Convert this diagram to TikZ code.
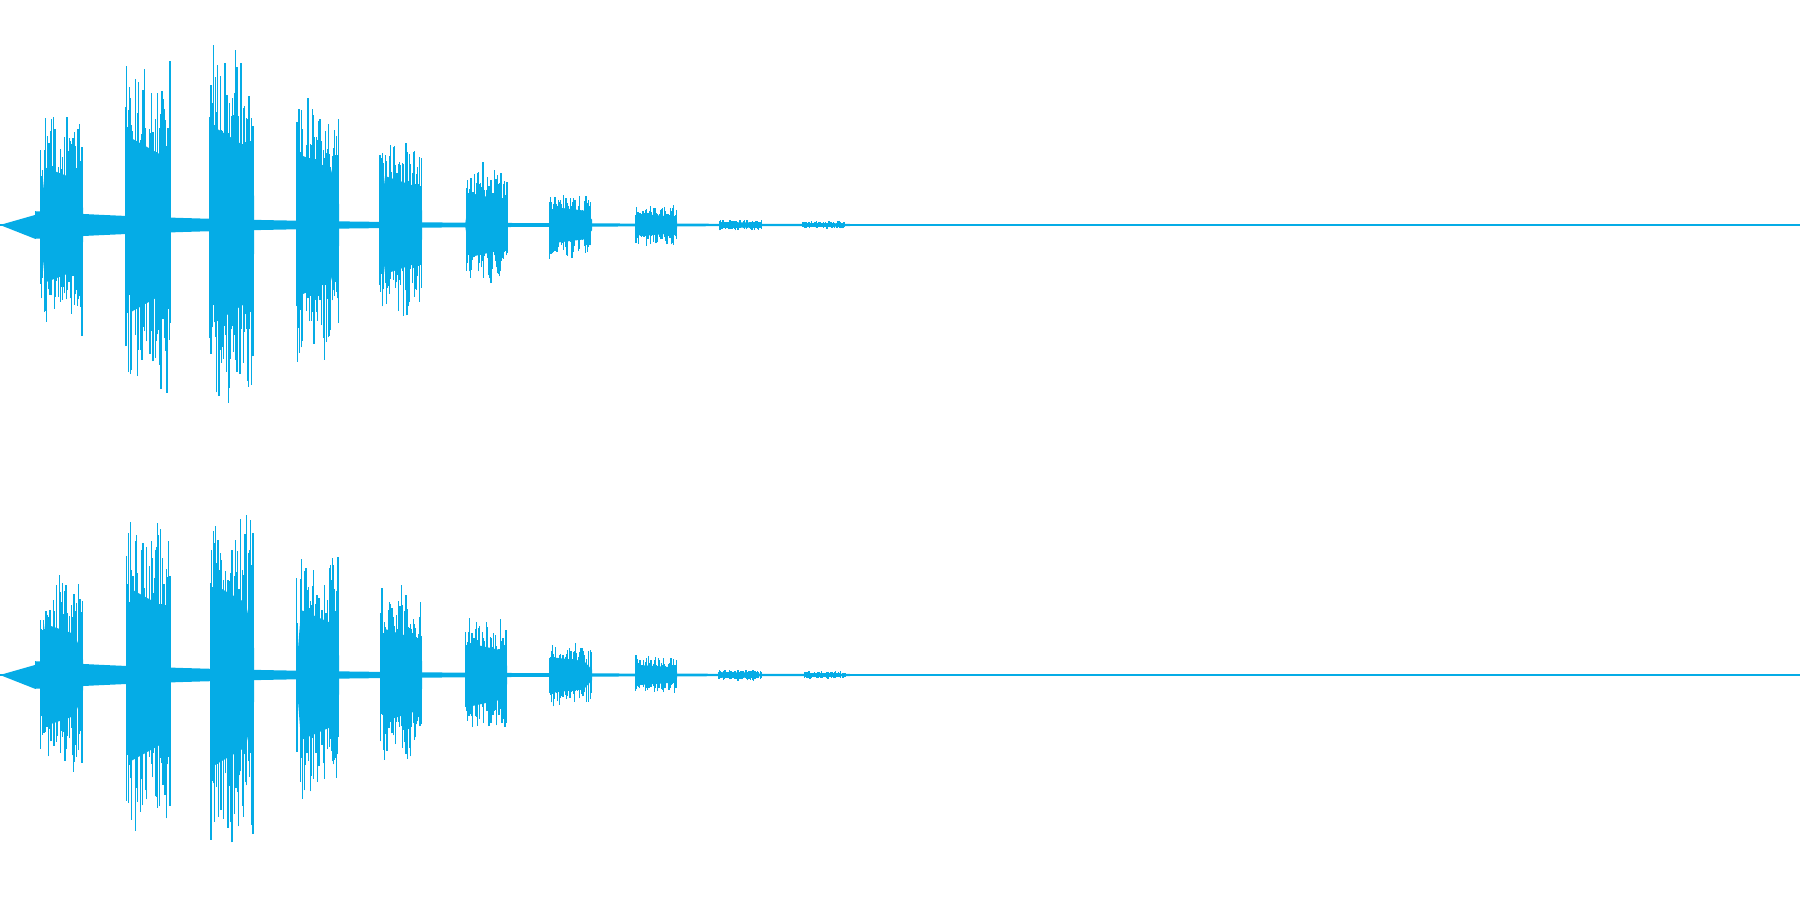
\documentclass[tikz,border=0pt]{standalone}
\usetikzlibrary{positioning}
\definecolor{wavecol}{RGB}{5,172,230}
\tikzset{wave/.style={wavecol},
  spike/.style={wavecol,line width=0.35pt}}
% one burst: centre y, x start, x end, amplitude
\newcommand{\wburst}[4]{%
  \fill[wave] (#2,#1) -- (#2+0.05,#1+0.5*#4) -- (#3-0.08,#1+0.4*#4) -- (#3,#1+0.15*#4) --
    (#3,#1-0.15*#4) -- (#3-0.08,#1-0.4*#4) -- (#2+0.05,#1-0.5*#4) -- cycle;
  \foreach \i in {1,...,80}{%
    \pgfmathsetmacro\xx{#2+(#3-#2)*rnd}
    \pgfmathsetmacro\hu{#4*(0.4+0.6*rnd*rnd)}
    \pgfmathsetmacro\hd{#4*(0.4+0.6*rnd*rnd)}
    \draw[spike] (\xx,#1-\hd) -- (\xx,#1+\hu);
  }}
% noise floor of a channel
\newcommand{\wfloor}[1]{%
  \fill[wave] (0,#1) -- (0.35,#1+0.1)
    -- plot[domain=0.35:8.5,samples=40] (\x,{#1+0.13*exp(-(\x-0.35)/2.0)+0.008})
    -- plot[domain=8.5:0.35,samples=40] (\x,{#1-0.13*exp(-(\x-0.35)/2.0)-0.008})
    -- cycle;
  \draw[wave,line width=0.5pt] (0,#1) -- (18,#1);
  \foreach \a/\b in {8.6/9.4,9.7/10.5,10.9/11.3,11.5/11.9}
    \fill[wave] (\a,#1-0.012) rectangle (\b,#1+0.012);}
\begin{document}
\begin{tikzpicture}
\pgfmathsetseed{4711}
\useasboundingbox (0,0) rectangle (18,9);
% upper channel
\wfloor{6.75}
\foreach \a/\b/\h in {0.40/0.83/1.15,1.26/1.70/1.74,2.10/2.54/1.95,2.96/3.39/1.40,
    3.80/4.22/0.98,4.65/5.07/0.64,5.49/5.92/0.36,6.35/6.77/0.22,7.18/7.62/0.06,8.03/8.45/0.04}
  {\wburst{6.75}{\a}{\b}{\h}}
% lower channel
\wfloor{2.25}
\foreach \a/\b/\h in {0.40/0.83/1.02,1.26/1.70/1.72,2.10/2.54/1.80,2.96/3.39/1.30,
    3.80/4.22/0.92,4.65/5.07/0.63,5.49/5.92/0.35,6.35/6.77/0.20,7.18/7.62/0.06,8.03/8.45/0.04}
  {\wburst{2.25}{\a}{\b}{\h}}
\end{tikzpicture}
\end{document}
